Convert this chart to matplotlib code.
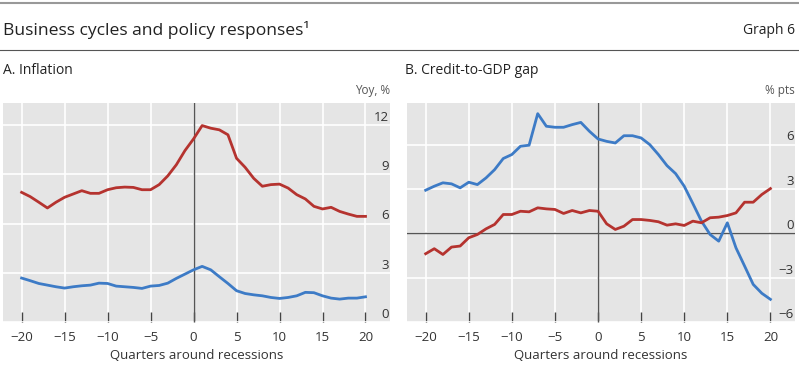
import numpy as np
import matplotlib.pyplot as plt
from matplotlib.lines import Line2D
from matplotlib.transforms import blended_transform_factory, ScaledTranslation

plt.rcParams['font.family'] = ['Open Sans', 'DejaVu Sans']

# quarters around recessions
quarters = np.arange(-20, 21)

# Panel A: inflation, yoy %
infl_red = [7.9, 7.64, 7.3, 6.95, 7.3, 7.6, 7.8, 8.0, 7.84, 7.84,
            8.06, 8.18, 8.22, 8.2, 8.06, 8.06, 8.37, 8.9, 9.58, 10.44,
            11.15, 11.96, 11.8, 11.7, 11.4, 9.97, 9.42, 8.75, 8.27, 8.37,
            8.4, 8.16, 7.76, 7.5, 7.05, 6.89, 6.99, 6.74, 6.58, 6.44, 6.44]
infl_blue = [2.69, 2.53, 2.36, 2.26, 2.16, 2.08, 2.16, 2.22, 2.26, 2.38,
             2.36, 2.2, 2.16, 2.12, 2.06, 2.2, 2.24, 2.38, 2.67, 2.93,
             3.19, 3.4, 3.19, 2.77, 2.36, 1.92, 1.75, 1.67, 1.61, 1.51,
             1.45, 1.51, 1.61, 1.82, 1.8, 1.61, 1.47, 1.41, 1.47, 1.47, 1.55]

# Panel B: credit-to-GDP gap, % pts
gap_blue = [2.92, 3.19, 3.42, 3.35, 3.08, 3.46, 3.3, 3.75, 4.31, 5.06,
            5.33, 5.89, 5.96, 8.09, 7.24, 7.17, 7.17, 7.35, 7.5, 6.9,
            6.38, 6.22, 6.11, 6.6, 6.6, 6.45, 6.0, 5.33, 4.58, 4.04,
            3.19, 2.02, 0.83, -0.07, -0.52, 0.72, -0.97, -2.2, -3.44, -4.04, -4.45]
gap_red = [-1.37, -1.03, -1.42, -0.92, -0.85, -0.29, -0.07, 0.31, 0.61, 1.28,
           1.28, 1.5, 1.46, 1.73, 1.66, 1.62, 1.35, 1.55, 1.39, 1.55,
           1.5, 0.65, 0.27, 0.49, 0.94, 0.94, 0.88, 0.79, 0.56, 0.65,
           0.54, 0.83, 0.72, 1.06, 1.1, 1.21, 1.39, 2.11, 2.11, 2.63, 3.03]

xticks = [-20, -15, -10, -5, 0, 5, 10, 15, 20]
yticks_a = [0, 3, 6, 9, 12]
yticks_b = [-6, -3, 0, 3, 6]

RED = '#b5332f'
BLUE = '#3d7bc6'
BG = '#e5e5e5'
TXT = '#333333'

fig = plt.figure(figsize=(7.99, 3.68), dpi=100)
W, H = 799, 368


def make_axes(left_px, right_px):
    return fig.add_axes([left_px / W, (H - 322.3) / H,
                         (right_px - left_px) / W, (322.3 - 102.7) / H])


def style(ax, ylim, yticks, unit):
    ax.set_facecolor(BG)
    ax.set_xlim(-22.2, 22.85)
    ax.set_ylim(*ylim)
    ax.set_xticks(xticks)
    ax.set_xticklabels([str(t).replace('-', '\u2212') for t in xticks],
                       fontsize=9.5, color=TXT)
    ax.set_yticks(yticks)
    ax.tick_params(axis='y', length=0, labelleft=False)
    ax.tick_params(axis='x', direction='in', length=7, width=1,
                   color='#444444', pad=6)
    ax.grid(True, color='white', lw=1.2)
    ax.set_axisbelow(True)
    for s in ax.spines.values():
        s.set_visible(False)
    tr = blended_transform_factory(ax.transAxes, ax.transData)
    off = ScaledTranslation(-1 / 72, 5.5 / 72, fig.dpi_scale_trans)
    for t in yticks:
        ax.text(1.0, t, str(t).replace('-', '\u2212'), transform=tr + off,
                ha='right', va='center', fontsize=9.5, color=TXT)
    ax.text(1.0, 1.025, unit, transform=ax.transAxes, ha='right', va='bottom',
            fontsize=8.5, color='#555555')
    ax.set_xlabel('Quarters around recessions', fontsize=9.5, color=TXT,
                  labelpad=4)
    ax.axvline(0, color='#555555', lw=1, zorder=2)


# Panel A
axa = make_axes(2.7, 390)
style(axa, (0, 13.35), yticks_a, 'Yoy, %')
axa.plot(quarters, infl_red, color=RED, lw=2, zorder=3)
axa.plot(quarters, infl_blue, color=BLUE, lw=2, zorder=3)

# Panel B
axb = make_axes(406.7, 795)
style(axb, (-6, 8.83), yticks_b, '% pts')
axb.axhline(0, color='#555555', lw=1, zorder=2)
axb.plot(quarters, gap_blue, color=BLUE, lw=2, zorder=3)
axb.plot(quarters, gap_red, color=RED, lw=2, zorder=3)

# header
fig.add_artist(Line2D([0, 1], [1 - 3.3 / H, 1 - 3.3 / H], color='#999999', lw=1.5))
fig.add_artist(Line2D([0, 1], [1 - 50 / H, 1 - 50 / H], color='#555555', lw=0.8))
fig.text(3 / W, 1 - 30 / H, 'Business cycles and policy responses\u00b9',
         fontsize=12.6, color='#222222', va='center', ha='left')
fig.text(795 / W, 1 - 30 / H, 'Graph 6', fontsize=10, color='#222222',
         va='center', ha='right')
fig.text(3 / W, 1 - 70 / H, 'A. Inflation', fontsize=10, color='#222222',
         va='center', ha='left')
fig.text(405 / W, 1 - 70 / H, 'B. Credit-to-GDP gap', fontsize=10,
         color='#222222', va='center', ha='left')

fig.savefig('out.png', dpi=100)
